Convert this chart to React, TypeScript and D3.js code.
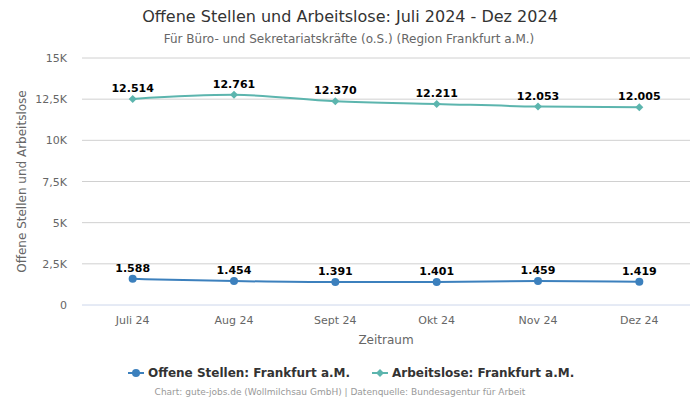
import React from "react";
import * as d3 from "d3";

const categories = ["Juli 24", "Aug 24", "Sept 24", "Okt 24", "Nov 24", "Dez 24"];
const offeneStellen = [1588, 1454, 1391, 1401, 1459, 1419];
const arbeitslose = [12514, 12761, 12370, 12211, 12053, 12005];
const yTicks = [0, 2500, 5000, 7500, 10000, 12500, 15000];
const yTickLabels = ["0", "2,5K", "5K", "7,5K", "10K", "12,5K", "15K"];

const W = 700, H = 400;
const left = 82, right = 690, top = 58, bottom = 305;
const font = "DejaVu Sans, sans-serif";

const fmt = (v: number) => d3.format(",")(v).replace(/,/g, ".");

export default function App() {
  const x = d3.scalePoint<string>().domain(categories).range([left, right]).padding(0.5);
  const y = d3.scaleLinear().domain([0, 15000]).range([bottom, top]);
  const line = d3.line<number>()
    .x((_, i) => x(categories[i])!)
    .y((d) => y(d))
    .curve(d3.curveMonotoneX);
  const c1 = "#3c80bd";
  const c2 = "#5cb5ae";
  const diamond = (cx: number, cy: number, r: number) =>
    `M${cx},${cy - r}L${cx + r},${cy}L${cx},${cy + r}L${cx - r},${cy}Z`;

  return (
    <svg width={W} height={H} style={{ position: "absolute", left: 0, top: 0, fontFamily: font }}>
      <rect width={W} height={H} fill="#fff" />
      <text x={350} y={22} textAnchor="middle" fontSize={16} fill="#333">
        Offene Stellen und Arbeitslose: Juli 2024 - Dez 2024
      </text>
      <text x={349} y={43} textAnchor="middle" fontSize={12} fill="#666">
        Für Büro- und Sekretariatskräfte (o.S.) (Region Frankfurt a.M.)
      </text>
      {yTicks.map((t, i) => (
        <g key={t}>
          <line x1={left} x2={right} y1={y(t)} y2={y(t)} stroke={t === 0 ? "#ccd6eb" : "#d0d0d0"} strokeWidth={1} />
          <text x={67} y={y(t) + 4} textAnchor="end" fontSize={11} fill="#666">{yTickLabels[i]}</text>
        </g>
      ))}
      {categories.map((c) => (
        <text key={c} x={x(c)} y={324} textAnchor="middle" fontSize={11} fill="#666">{c}</text>
      ))}
      <text x={386} y={344} textAnchor="middle" fontSize={12} fill="#666">Zeitraum</text>
      <text transform={`translate(26,${(top + bottom) / 2}) rotate(-90)`} textAnchor="middle" fontSize={12} fill="#666">
        Offene Stellen und Arbeitslose
      </text>

      <path d={line(arbeitslose)!} fill="none" stroke={c2} strokeWidth={2} />
      <path d={line(offeneStellen)!} fill="none" stroke={c1} strokeWidth={2} />
      {arbeitslose.map((v, i) => (
        <g key={"a" + i}>
          <path d={diamond(x(categories[i])!, y(v), 4)} fill={c2} />
          <text x={x(categories[i])} y={y(v) - 7} textAnchor="middle" fontSize={11} fontWeight="bold" fill="#000">{fmt(v)}</text>
        </g>
      ))}
      {offeneStellen.map((v, i) => (
        <g key={"o" + i}>
          <circle cx={x(categories[i])} cy={y(v)} r={4} fill={c1} />
          <text x={x(categories[i])} y={y(v) - 7} textAnchor="middle" fontSize={11} fontWeight="bold" fill="#000">{fmt(v)}</text>
        </g>
      ))}

      <g>
        <line x1={128} x2={144} y1={373} y2={373} stroke={c1} strokeWidth={2} />
        <circle cx={136} cy={373} r={4} fill={c1} />
        <text x={148} y={377} fontSize={12} fontWeight="bold" fill="#333">Offene Stellen: Frankfurt a.M.</text>
        <line x1={372} x2={388} y1={373} y2={373} stroke={c2} strokeWidth={2} />
        <path d={diamond(380, 373, 4)} fill={c2} />
        <text x={392} y={377} fontSize={12} fontWeight="bold" fill="#333">Arbeitslose: Frankfurt a.M.</text>
      </g>
      <text x={340} y={395} textAnchor="middle" fontSize={9} fill="#999">
        Chart: gute-jobs.de (Wollmilchsau GmbH) | Datenquelle: Bundesagentur für Arbeit
      </text>
    </svg>
  );
}
